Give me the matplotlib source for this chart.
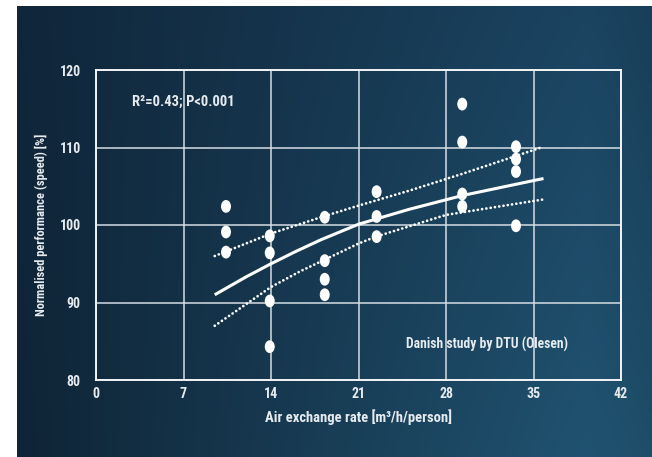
import numpy as np
import matplotlib
matplotlib.use("Agg")
import matplotlib.pyplot as plt
from matplotlib import font_manager
from matplotlib.path import Path

# ---- data ----
x_vals = [10.4, 10.4, 10.4,
          13.9, 13.9, 13.9, 13.9,
          18.3, 18.3, 18.3, 18.3,
          22.45, 22.45, 22.45,
          29.3, 29.3, 29.3, 29.3,
          33.6, 33.6, 33.6, 33.6]
y_vals = [102.4, 99.1, 96.5,
          98.6, 96.4, 90.2, 84.3,
          101.0, 95.4, 93.0, 91.0,
          104.3, 101.1, 98.5,
          115.6, 110.7, 104.0, 102.4,
          110.1, 108.5, 106.9, 99.9]

fit_x = [9.5, 12.0, 14.0, 16.0, 18.0, 21.0, 25.0, 29.3, 35.8]
fit_y = [91.0, 93.3, 95.0, 96.6, 98.1, 100.1, 102.0, 103.8, 106.0]

upper_x = [9.5, 14.0, 18.0, 21.0, 25.0, 29.3, 35.8]
upper_y = [96.0, 98.9, 101.0, 102.5, 104.4, 106.6, 110.1]

lower_x = [9.5, 14.0, 16.3, 18.0, 21.0, 22.4, 28.0, 35.8]
lower_y = [87.0, 92.0, 94.0, 95.3, 97.6, 98.5, 101.3, 103.3]

x_ticks = [0, 7, 14, 21, 28, 35, 42]
y_ticks = [80, 90, 100, 110, 120]

x_label = "Air exchange rate [m³/h/person]"
y_label = "Normalised performance (speed) [%]"
stat_text = "R²=0.43; P<0.001"
source_text = "Danish study by DTU (Olesen)"

# ---- font: prefer a condensed face ----
available = {f.name for f in font_manager.fontManager.ttflist}
chosen = None
for cand in ['Liberation Sans Narrow', 'Roboto Condensed', 'Open Sans Condensed',
             'DejaVu Sans Condensed', 'Lato']:
    if cand in available:
        chosen = cand
        break
fams = [chosen, 'DejaVu Sans'] if chosen else ['DejaVu Sans']
plt.rcParams['font.family'] = fams
scale = 1.0 if chosen != 'Lato' and chosen else 0.9

TXT = '#e6ebef'
W, H = 652, 457
fig = plt.figure(figsize=(W / 100, H / 100), dpi=100, facecolor='white')

# background gradient panel
bg = fig.add_axes([17 / W, 0, 1 - 17 / W, 1 - 6 / H])
bg.set_axis_off()
tl = np.array([0x10, 0x26, 0x3a]) / 255
tr = np.array([0x1c, 0x47, 0x65]) / 255
bl = np.array([0x0f, 0x24, 0x36]) / 255
br = np.array([0x22, 0x58, 0x77]) / 255
nx, ny = 200, 100
u = np.linspace(0, 1, nx)[None, :, None]
v = np.linspace(0, 1, ny)[:, None, None]
top = tl + (tr - tl) * u
bot = bl + (br - bl) * u
img = top * (1 - v) + bot * v
edge = np.clip((u - 0.9) / 0.1, 0, 1)
img = img * (1 - 0.12 * edge)
bg.imshow(np.clip(img, 0, 1), aspect='auto', extent=[0, 1, 0, 1], interpolation='bilinear')
bg.set_xlim(0, 1)
bg.set_ylim(0, 1)

ax = fig.add_axes([96 / W, 1 - 380 / H, 525 / W, 310 / H])
ax.patch.set_alpha(0)
ax.set_xlim(0, 42)
ax.set_ylim(80, 120)
ax.set_xticks(x_ticks)
ax.set_yticks(y_ticks)
ax.grid(True, color='#d5dde3', linewidth=1.1)
ax.set_axisbelow(True)
for s in ax.spines.values():
    s.set_color('#f2f4f6')
    s.set_linewidth(1.4)
ax.tick_params(axis='x', length=0, colors=TXT, labelsize=10 * scale, pad=5)
ax.tick_params(axis='y', length=0, colors=TXT, labelsize=10 * scale, pad=11)
for lab in ax.get_xticklabels() + ax.get_yticklabels():
    lab.set_fontweight('bold')
ax.set_xlabel(x_label, color=TXT, fontsize=10.5 * scale, fontweight='bold', labelpad=6)
ax.set_ylabel(y_label, color=TXT, fontsize=9.0 * scale, fontweight='bold', labelpad=8.5)

# lines
ax.plot(fit_x, fit_y, color='white', linewidth=2.2, solid_capstyle='butt', zorder=3)
for lx, ly in ((upper_x, upper_y), (lower_x, lower_y)):
    ax.plot(lx, ly, color='white', linewidth=2.0, linestyle=(0, (0.01, 1.55)),
            dash_capstyle='round', zorder=3)

# elliptical markers
circ = Path.unit_circle()
ell = Path(circ.vertices * np.array([0.78, 1.0]), circ.codes)
ax.scatter(x_vals, y_vals, marker=ell, s=(12.8 * 0.72) ** 2, color='white',
           edgecolors='none', zorder=4)

ax.text(2.9, 115.9, stat_text, color=TXT, fontsize=10.5 * scale, fontweight='bold',
        va='center', ha='left')
ax.text(24.8, 84.6, source_text, color=TXT, fontsize=9.8 * scale, fontweight='bold',
        va='center', ha='left')

fig.savefig('out.png', dpi=100, facecolor='white')
